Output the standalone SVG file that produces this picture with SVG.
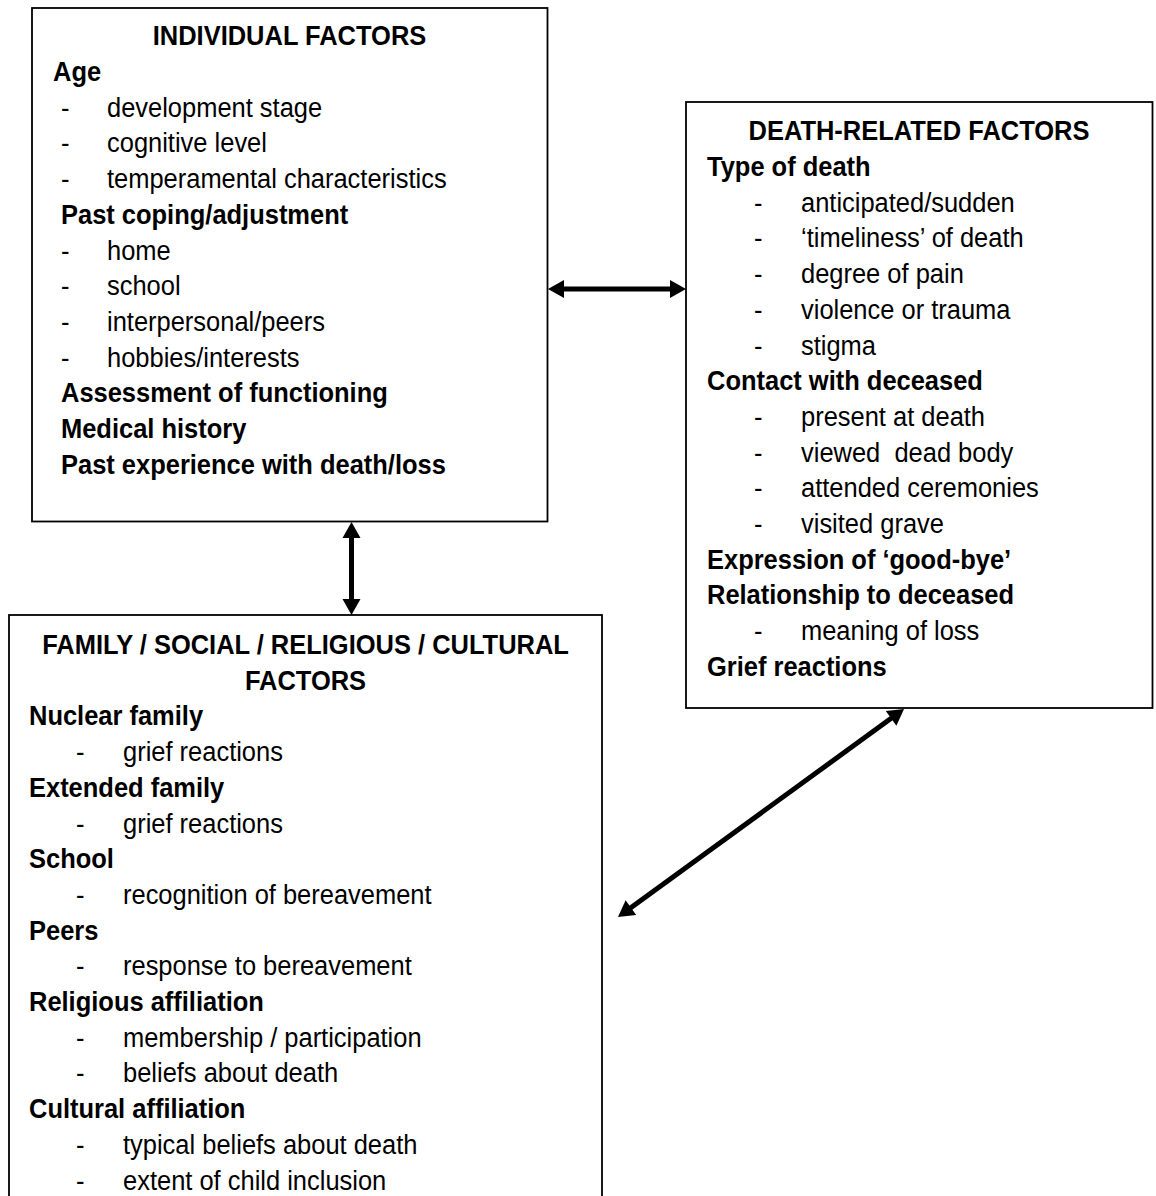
<svg xmlns="http://www.w3.org/2000/svg" width="1156" height="1196" viewBox="0 0 1156 1196">
<style>
text{font-family:"Liberation Sans",Arial,sans-serif;font-size:28px;fill:#000}
.b{font-weight:bold}
.c{text-anchor:middle;font-weight:bold}
.box{fill:#fff;stroke:#000;stroke-width:1.8}
.conn{stroke:#000;stroke-width:5;fill:none;marker-start:url(#ah);marker-end:url(#ah)}
</style>
<defs>
<marker id="ah" markerUnits="userSpaceOnUse" markerWidth="20" markerHeight="20" viewBox="0 -10 18 20" refX="1" refY="0" orient="auto-start-reverse">
<path d="M0,-9 L16,0 L0,9 Z" fill="#000"/>
</marker>
</defs>
<rect width="1156" height="1196" fill="#fff"/>

<g id="individual">
<rect class="box" x="32" y="8" width="515.5" height="513.5"/>
<text class="c" transform="translate(289.5,45) scale(0.91,1)">INDIVIDUAL FACTORS</text>
<text class="b" transform="translate(53,81) scale(0.91,1)">Age</text>
<text transform="translate(61,116.7) scale(0.91,1)">-</text><text transform="translate(107,116.7) scale(0.91,1)">development stage</text>
<text transform="translate(61,152.4) scale(0.91,1)">-</text><text transform="translate(107,152.4) scale(0.91,1)">cognitive level</text>
<text transform="translate(61,188.1) scale(0.91,1)">-</text><text transform="translate(107,188.1) scale(0.91,1)">temperamental characteristics</text>
<text class="b" transform="translate(61,223.8) scale(0.91,1)">Past coping/adjustment</text>
<text transform="translate(61,259.5) scale(0.91,1)">-</text><text transform="translate(107,259.5) scale(0.91,1)">home</text>
<text transform="translate(61,295.2) scale(0.91,1)">-</text><text transform="translate(107,295.2) scale(0.91,1)">school</text>
<text transform="translate(61,330.9) scale(0.91,1)">-</text><text transform="translate(107,330.9) scale(0.91,1)">interpersonal/peers</text>
<text transform="translate(61,366.6) scale(0.91,1)">-</text><text transform="translate(107,366.6) scale(0.91,1)">hobbies/interests</text>
<text class="b" transform="translate(61,402.3) scale(0.91,1)">Assessment of functioning</text>
<text class="b" transform="translate(61,438) scale(0.91,1)">Medical history</text>
<text class="b" transform="translate(61,473.7) scale(0.91,1)">Past experience with death/loss</text>
</g>

<g id="death">
<rect class="box" x="686" y="102" width="466.5" height="606"/>
<text class="c" transform="translate(919,140) scale(0.91,1)">DEATH-RELATED FACTORS</text>
<text class="b" transform="translate(707,176) scale(0.91,1)">Type of death</text>
<text transform="translate(754,211.7) scale(0.91,1)">-</text><text transform="translate(801,211.7) scale(0.91,1)">anticipated/sudden</text>
<text transform="translate(754,247.4) scale(0.91,1)">-</text><text transform="translate(801,247.4) scale(0.91,1)">‘timeliness’ of death</text>
<text transform="translate(754,283.1) scale(0.91,1)">-</text><text transform="translate(801,283.1) scale(0.91,1)">degree of pain</text>
<text transform="translate(754,318.8) scale(0.91,1)">-</text><text transform="translate(801,318.8) scale(0.91,1)">violence or trauma</text>
<text transform="translate(754,354.5) scale(0.91,1)">-</text><text transform="translate(801,354.5) scale(0.91,1)">stigma</text>
<text class="b" transform="translate(707,390.2) scale(0.91,1)">Contact with deceased</text>
<text transform="translate(754,425.9) scale(0.91,1)">-</text><text transform="translate(801,425.9) scale(0.91,1)">present at death</text>
<text transform="translate(754,461.6) scale(0.91,1)">-</text><text transform="translate(801,461.6) scale(0.91,1)" style="white-space:pre">viewed  dead body</text>
<text transform="translate(754,497.3) scale(0.91,1)">-</text><text transform="translate(801,497.3) scale(0.91,1)">attended ceremonies</text>
<text transform="translate(754,533) scale(0.91,1)">-</text><text transform="translate(801,533) scale(0.91,1)">visited grave</text>
<text class="b" transform="translate(707,568.7) scale(0.91,1)">Expression of ‘good-bye’</text>
<text class="b" transform="translate(707,604.4) scale(0.91,1)">Relationship to deceased</text>
<text transform="translate(754,640.1) scale(0.91,1)">-</text><text transform="translate(801,640.1) scale(0.91,1)">meaning of loss</text>
<text class="b" transform="translate(707,675.8) scale(0.91,1)">Grief reactions</text>
</g>

<g id="family">
<rect class="box" x="9" y="615" width="593" height="610"/>
<text class="c" transform="translate(305.5,654) scale(0.91,1)">FAMILY / SOCIAL / RELIGIOUS / CULTURAL</text>
<text class="c" transform="translate(305.5,689.7) scale(0.91,1)">FACTORS</text>
<text class="b" transform="translate(29,725.4) scale(0.91,1)">Nuclear family</text>
<text transform="translate(76,761.1) scale(0.91,1)">-</text><text transform="translate(123,761.1) scale(0.91,1)">grief reactions</text>
<text class="b" transform="translate(29,796.8) scale(0.91,1)">Extended family</text>
<text transform="translate(76,832.5) scale(0.91,1)">-</text><text transform="translate(123,832.5) scale(0.91,1)">grief reactions</text>
<text class="b" transform="translate(29,868.2) scale(0.91,1)">School</text>
<text transform="translate(76,903.9) scale(0.91,1)">-</text><text transform="translate(123,903.9) scale(0.91,1)">recognition of bereavement</text>
<text class="b" transform="translate(29,939.6) scale(0.91,1)">Peers</text>
<text transform="translate(76,975.3) scale(0.91,1)">-</text><text transform="translate(123,975.3) scale(0.91,1)">response to bereavement</text>
<text class="b" transform="translate(29,1011) scale(0.91,1)">Religious affiliation</text>
<text transform="translate(76,1046.7) scale(0.91,1)">-</text><text transform="translate(123,1046.7) scale(0.91,1)">membership / participation</text>
<text transform="translate(76,1082.4) scale(0.91,1)">-</text><text transform="translate(123,1082.4) scale(0.91,1)">beliefs about death</text>
<text class="b" transform="translate(29,1118.1) scale(0.91,1)">Cultural affiliation</text>
<text transform="translate(76,1153.8) scale(0.91,1)">-</text><text transform="translate(123,1153.8) scale(0.91,1)">typical beliefs about death</text>
<text transform="translate(76,1189.5) scale(0.91,1)">-</text><text transform="translate(123,1189.5) scale(0.91,1)">extent of child inclusion</text>
</g>

<g id="connectors">
<line class="conn" x1="563" y1="289" x2="671" y2="289"/>
<line class="conn" x1="351.5" y1="537" x2="351.5" y2="600"/>
<line class="conn" x1="630.1" y1="908.2" x2="891.9" y2="717.8"/>
</g>
</svg>
